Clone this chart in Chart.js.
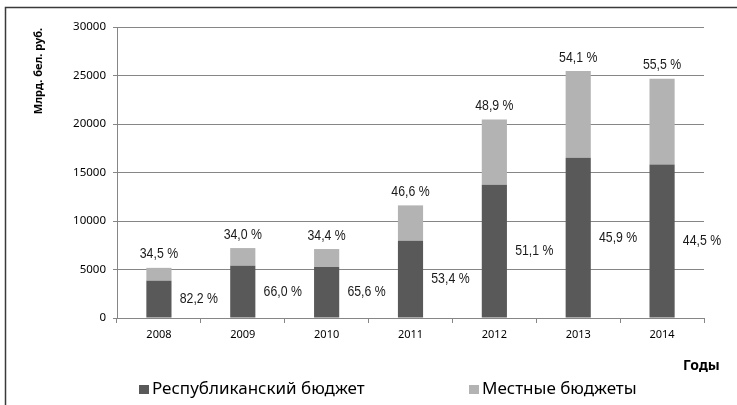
<!DOCTYPE html>
<html>
<head>
<meta charset="utf-8">
<script src="https://cdn.jsdelivr.net/npm/chart.js@4.4.1/dist/chart.umd.min.js"></script>
<style>
  html, body { margin: 0; padding: 0; background: #fff; }
  #wrap { width: 737px; height: 405px; position: relative; }
</style>
</head>
<body>
<div id="wrap"><canvas id="budgetChart" width="737" height="405"></canvas></div>
<script>
// Budget data, bln BYR
const years = ['2008', '2009', '2010', '2011', '2012', '2013', '2014'];
const republican = [3830, 5380, 5250, 7960, 13750, 16510, 15820];
const local = [1340, 1830, 1860, 3650, 6710, 8950, 8850];
const localShare = ['34,5 %', '34,0 %', '34,4 %', '46,6 %', '48,9 %', '54,1 %', '55,5 %'];
const republicanShare = ['82,2 %', '66,0 %', '65,6 %', '53,4 %', '51,1 %', '45,9 %', '44,5 %'];
const seriesNames = ['Республиканский бюджет', 'Местные бюджеты'];
const yMax = 30000;
const yStep = 5000;
const yTitle = 'Млрд. бел. руб.';
const xTitle = 'Годы';

const DARK = '#595959';
const LIGHT = '#b3b3b3';
const AXIS = '#868686';

// frame, axis titles, custom legend and percentage labels
const decorPlugin = {
    id: 'decor',
    afterDraw(chart) {
        const ctx = chart.ctx;
        ctx.save();

        // outer frame (only top and left edges are visible)
        ctx.strokeStyle = '#3a3a3a';
        ctx.lineWidth = 1.5;
        ctx.beginPath();
        ctx.moveTo(5.5, 405);
        ctx.lineTo(5.5, 7.5);
        ctx.lineTo(737, 7.5);
        ctx.stroke();

        // y axis title
        ctx.fillStyle = '#000';
        ctx.font = "bold 11px 'Noto Sans'";
        ctx.textAlign = 'center';
        ctx.textBaseline = 'middle';
        ctx.save();
        ctx.translate(39, 71);
        ctx.rotate(-Math.PI / 2);
        ctx.fillText(yTitle, 0, 0);
        ctx.restore();

        // x axis title
        ctx.font = "bold 14px 'Noto Sans'";
        ctx.textAlign = 'left';
        ctx.fillText(xTitle, 683, 366);

        // legend
        const legendX = [139, 469];
        ctx.font = "17px 'Noto Sans'";
        chart.data.datasets.forEach((ds, i) => {
            ctx.fillStyle = ds.backgroundColor;
            ctx.fillRect(legendX[i], 385, 10, 9);
            ctx.fillStyle = '#000';
            ctx.textBaseline = 'middle';
            ctx.fillText(ds.label, legendX[i] + 13, 389);
        });

        // percentage labels (narrow font look)
        const xScale = chart.scales.x;
        const catW = (xScale.right - xScale.left) / years.length;
        const drawNarrow = (txt, x, y) => {
            ctx.save();
            ctx.translate(x, y);
            ctx.scale(0.82, 1);
            ctx.fillText(txt, 0, 0);
            ctx.restore();
        };
        ctx.fillStyle = '#1a1a1a';
        ctx.font = "15px 'Liberation Sans'";
        ctx.textAlign = 'center';
        ctx.textBaseline = 'middle';

        const metaRep = chart.getDatasetMeta(0);
        metaRep.data.forEach((bar, i) => {
            const y = (bar.y + bar.base) / 2;
            drawNarrow(republicanShare[i], bar.x + catW / 2 - 2, y);
        });
        const metaLoc = chart.getDatasetMeta(1);
        metaLoc.data.forEach((bar, i) => {
            drawNarrow(localShare[i], bar.x, bar.y - 13.5);
        });

        ctx.restore();
    }
};

const ctx = document.getElementById('budgetChart').getContext('2d');
new Chart(ctx, {
    type: 'bar',
    data: {
        labels: years,
        datasets: [
            {
                label: seriesNames[0],
                data: republican,
                backgroundColor: DARK,
                barPercentage: 0.3,
                categoryPercentage: 1
            },
            {
                label: seriesNames[1],
                data: local,
                backgroundColor: LIGHT,
                barPercentage: 0.3,
                categoryPercentage: 1
            }
        ]
    },
    options: {
        responsive: false,
        animation: false,
        devicePixelRatio: 1,
        layout: { padding: { left: 0, top: 27, right: 33, bottom: 0 } },
        plugins: {
            legend: { display: false },
            tooltip: { enabled: false }
        },
        scales: {
            x: {
                stacked: true,
                grid: {
                    drawOnChartArea: false,
                    color: AXIS,
                    tickLength: 5
                },
                border: { color: AXIS },
                ticks: {
                    color: '#000',
                    padding: 5,
                    font: { family: 'Noto Sans', size: 11 }
                },
                afterFit(scale) { scale.height = 87; }
            },
            y: {
                stacked: true,
                min: 0,
                max: yMax,
                grid: {
                    color: AXIS,
                    tickLength: 4
                },
                border: { color: AXIS },
                ticks: {
                    stepSize: yStep,
                    color: '#000',
                    padding: 7,
                    font: { family: 'Noto Sans', size: 11.5 },
                    callback: value => String(value)
                },
                afterFit(scale) { scale.width = 117; }
            }
        }
    },
    plugins: [decorPlugin]
});
</script>
</body>
</html>
